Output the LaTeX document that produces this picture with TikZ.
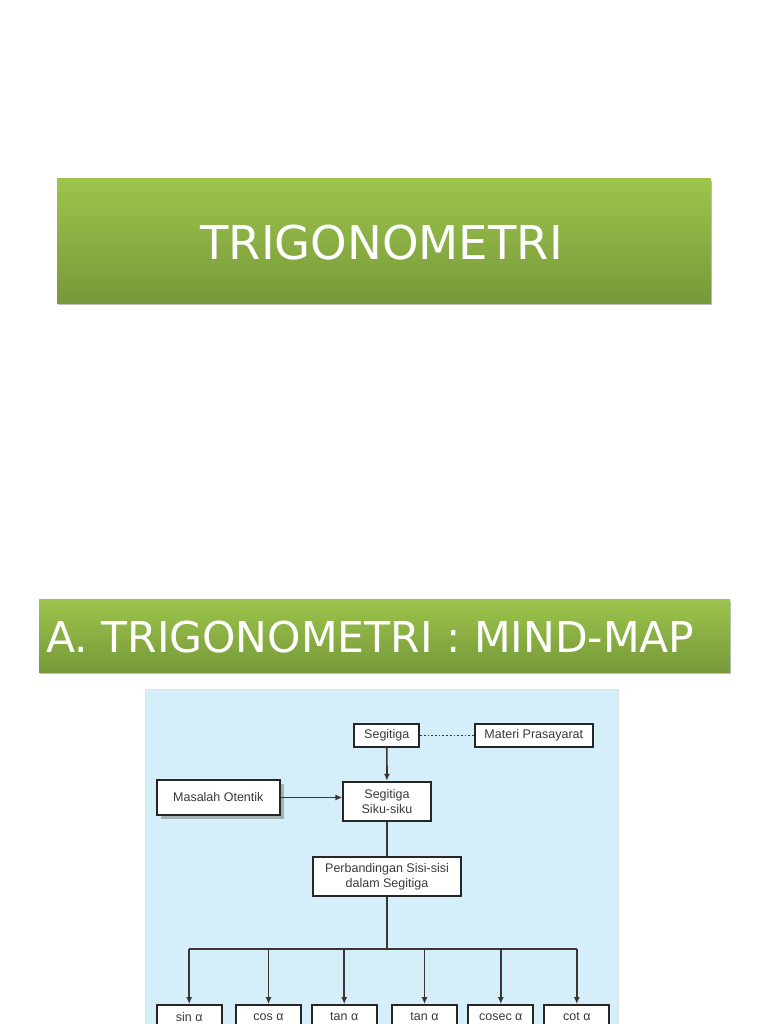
\documentclass[tikz,border=0pt]{standalone}
\usepackage{fontspec}
\setmainfont{DejaVu Sans}
\newfontfamily\boxfont{Liberation Sans}
\usetikzlibrary{arrows.meta,shadows}
\definecolor{bannertop}{HTML}{9DC44C}
\definecolor{bannerbot}{HTML}{77993A}
\definecolor{panelblue}{HTML}{D4EEFA}
\definecolor{linkcol}{HTML}{3D3530}
\definecolor{boxtext}{HTML}{3A3A3A}

\begin{document}
\begin{tikzpicture}
  [x=1pt, y=-1pt,
   banner/.style={top color=bannertop, bottom color=bannerbot, draw=none},
   mapbox/.style={draw=black!85, line width=1.8pt, fill=white, inner sep=2pt, align=center,
                  font=\boxfont\fontsize{12.5}{15}\selectfont, text=boxtext},
   link/.style={draw=linkcol, line width=1.7pt},
   tip/.style={-{Latex[length=7pt,width=6pt]}}]

  \clip (0,0) rectangle (768,1024);
  \fill[white] (0,0) rectangle (768,1024);

  % title banner
  \fill[black!25] (58,181) rectangle (712,305);
  \shade[banner] (57,179) rectangle (711,303);
  \node[font=\fontsize{46.5}{50}\selectfont, text=white] (title) at (381.5,243) {TRIGONOMETRI};

  % section banner
  \fill[black!25] (40,601) rectangle (731,674);
  \shade[banner] (39,599) rectangle (730,672);
  \node[font=\fontsize{42.5}{46}\selectfont, text=white, anchor=west, inner sep=0pt]
    (section) at (46,637.5) {A. TRIGONOMETRI : MIND-MAP};

  % mind-map panel
  \filldraw[fill=panelblue, draw=black!12, line width=1pt] (145,689) rectangle (618,1040);

  \node[mapbox, minimum width=65pt, minimum height=22.7pt] (seg) at (386.8,735.3) {Segitiga};
  \node[mapbox, minimum width=117.7pt, minimum height=22.7pt] (materi) at (533.8,735.3) {Materi Prasayarat};
  \node[mapbox, minimum width=123.3pt, minimum height=35pt,
        drop shadow={shadow xshift=4pt, shadow yshift=-4pt, fill=black!55}] (masalah) at (218.3,797.5) {Masalah Otentik};
  \node[mapbox, minimum width=87.4pt, minimum height=39.3pt] (siku) at (387,801.3) {Segitiga\\Siku-siku};
  \node[mapbox, minimum width=147.4pt, minimum height=39.3pt] (perb) at (387,876.3) {Perbandingan Sisi-sisi\\dalam Segitiga};

  \foreach \i/\xpos/\lbl in {1/189.2/sin α, 2/268.5/cos α, 3/344.2/tan α,
                             4/424.5/tan α, 5/500.8/cosec α, 6/576.8/cot α}
    \node[mapbox, minimum width=65pt, minimum height=24pt] (b\i) at (\xpos,1017) {\lbl};

  \coordinate (bus) at (387,949.3);

  \draw[link, dotted, line width=1.4pt] (seg) -- (materi);
  \draw[link, tip] (seg) -- (siku);
  \draw[link, tip] (masalah.east) -- (masalah.east -| siku.west);
  \draw[link] (siku) -- (perb);
  \draw[link] (perb.south) -- (bus);
  \draw[link] (b1.north |- bus) -- (b6.north |- bus);
  \foreach \i in {1,...,6}
    \draw[link, tip] (b\i.north |- bus) -- (b\i.north);
\end{tikzpicture}
\end{document}
